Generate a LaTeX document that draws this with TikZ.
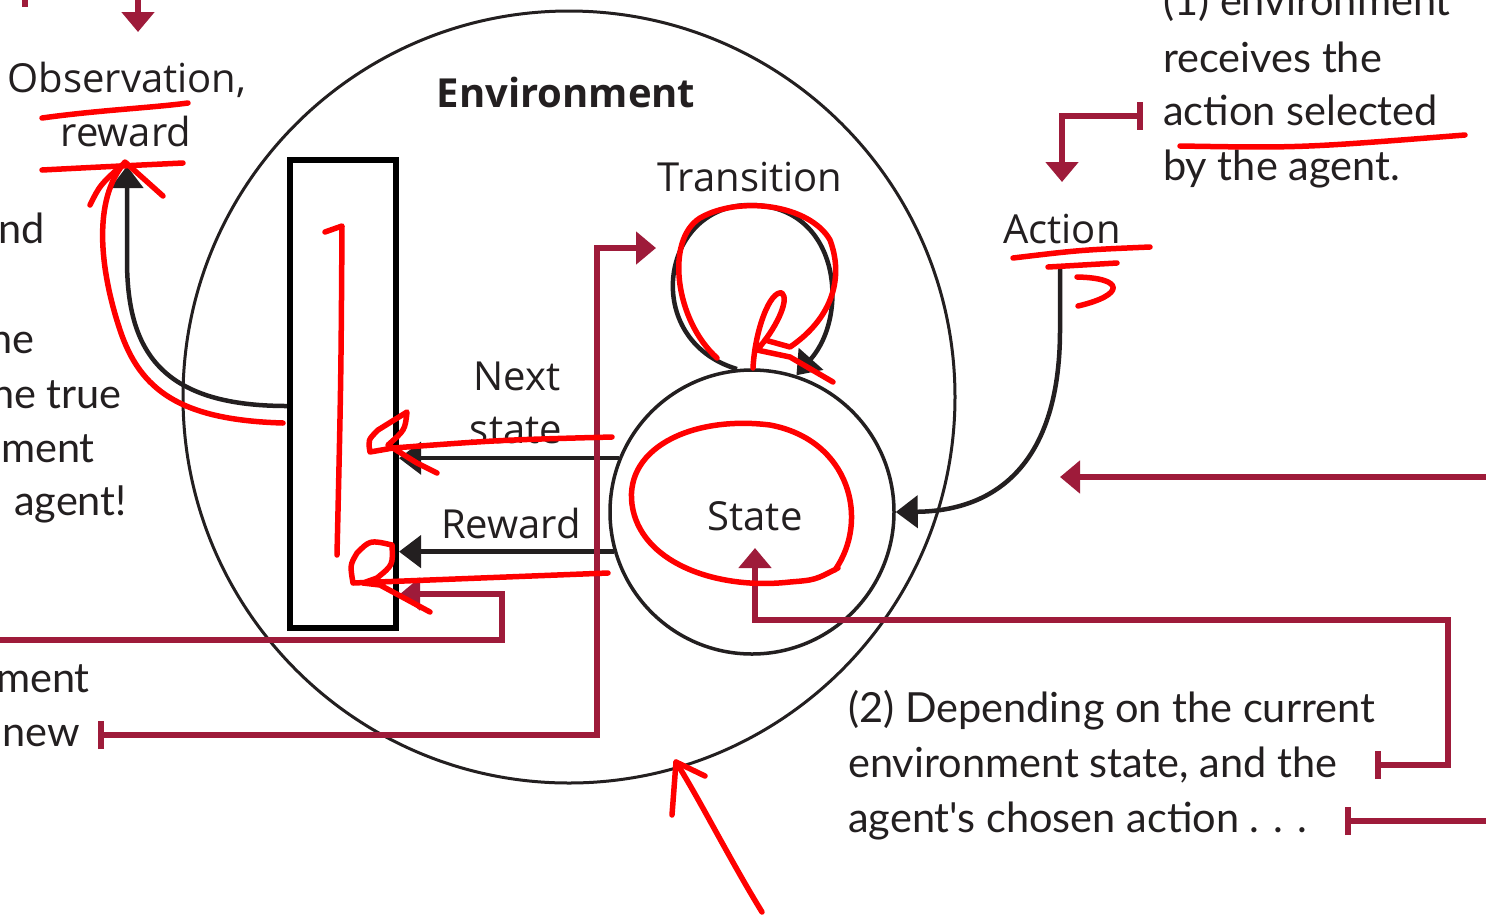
\documentclass[tikz,border=0pt]{standalone}
\usepackage{fontspec}
\setmainfont{Open Sans}
\newfontfamily\handfont{Lato}
\usetikzlibrary{arrows.meta}
\definecolor{ink}{HTML}{231F20}
\definecolor{callout}{HTML}{9E1B3A}
\definecolor{penred}{HTML}{FF0000}
\begin{document}
\begin{tikzpicture}[x=1pt,y=-1pt,
  lbl/.style={font=\fontsize{40}{48}\selectfont, text=ink, inner sep=0, anchor=base},
  hand/.style={font=\handfont\fontsize{41.5}{48}\selectfont, text=ink, inner sep=0},
  conn/.style={draw=ink, line width=4.5pt, -{Triangle[length=22pt,width=32pt]}},
  mline/.style={draw=callout, line width=6pt},
  mtip/.style={-{Triangle[length=20pt,width=32pt]}},
  mbar/.style={{Bar[width=28pt]}-},
  mbartip/.style={{Bar[width=28pt]}-{Triangle[length=20pt,width=32pt]}},
  pen/.style={draw=penred, line width=5.5pt, line cap=round, line join=round}]
\useasboundingbox[fill=white] (0,0) rectangle (1486,922);

% main shapes
\node[draw=ink, circle, line width=3pt, minimum size=772pt, inner sep=0] (env) at (569,397) {};
\node[draw=black, line width=6pt, minimum width=106pt, minimum height=468pt, inner sep=0] (box) at (343,394) {};
\node[draw=ink, circle, line width=3.5pt, minimum size=284pt, inner sep=0] (state) at (752,512) {};

% labels
\node[lbl, font=\bfseries\fontsize{40}{48}\selectfont] (envlbl) at (566,107) {Environment};
\node[lbl] (obs1) at (127,92) {Observation,};
\node[lbl] (obs2) at (126,146) {reward};
\node[lbl] (translbl) at (750,191) {Transition};
\node[lbl] (next1) at (517,390) {Next};
\node[lbl] (next2) at (516,443) {state};
\node[lbl] (rewlbl) at (511,538) {Reward};
\node[lbl] (statelbl) at (755,530) {State};
\node[lbl] (action) at (1062,243) {Action};

% black connectors
\coordinate (obstip) at (127,166);
\coordinate (actfoot) at (1060,265);
\draw[conn] ([yshift=-12pt]box.west) .. controls (160,406) and (127,350) .. (127,260) -- (obstip);
\draw[conn] (state.158.5) -- (box.east |- state.158.5);
\draw[conn] (state.196) -- (box.east |- state.196);
\draw[conn] (actfoot) -- (1060,330) .. controls (1060,470) and (990,511) .. (state.east);
\draw[conn] (state.96) .. controls (640,340) and (660,205) .. (750,205) .. controls (840,205) and (850,315) .. (state.72);

% handwritten annotations
\node[hand, anchor=base west] (r0) at (1163,15) {(1) environment};
\node[hand, anchor=base west] (r1) at (1163,72) {receives the};
\node[hand, anchor=base west] (r2) at (1163,125) {action selected};
\node[hand, anchor=base west] (r3) at (1163,180) {by the agent.};
\node[hand, anchor=base west] (b1) at (848,722) {(2) Depending on the current};
\node[hand, anchor=base west] (b2) at (848,777) {environment state, and the};
\node[hand, anchor=base west] (b3) at (848,832) {agent's chosen action . . .};
\node[hand, anchor=base east] (l1) at (45,243) {nd};
\node[hand, anchor=base east] (l2) at (35,353) {he};
\node[hand, anchor=base east] (l3) at (122,408) {he true};
\node[hand, anchor=base east] (l4) at (95,462) {ment};
\node[hand, anchor=base east] (l5) at (127,515) {agent!};
\node[hand, anchor=base east] (l6) at (90,692) {ment};
\node[hand, anchor=base east] (l7) at (80,746) {new};

% callout lines
\draw[mline] (25,-10) -- (25,7);
\draw[mline, mtip] (138,-10) -- (138,32);
\draw[mline, mbartip] (1143,116) -| (1062,182);
\draw[mline, mtip] (1500,477) -- (1060,477);
\draw[mline, mbartip] (1375,765) -- (1448,765) -- (1448,620) -- (755,620) -- (755,548);
\draw[mline, mbar] (1345,821) -- (1500,821);
\draw[mline, mtip] (-10,640) -- (502,640) -- (502,594) -- (400,594);
\draw[mline, mbartip] (98,735) -- (597,735) -- (597,248) -- (656,248);

% red pen marks
\draw[pen] (42,118) .. controls (100,110) and (150,108) .. (188,103);
\draw[pen] (42,170) .. controls (100,167) .. (183,163);
\draw[pen] (283,423) .. controls (180,420) and (140,390) .. (120,330) .. controls (100,270) and (92,200) .. (125,162) -- (163,196);
\draw[pen] (90,205) .. controls (100,185) .. (122,165);
\draw[pen] (325,232) -- (342,226) .. controls (341,380) .. (337,555);
\draw[pen] (612,437) .. controls (500,440) .. (393,448) -- (370,452) .. controls (368,440) .. (378,430) -- (407,412) .. controls (405,430) .. (388,445) -- (417,463) -- (437,473);
\draw[pen] (608,573) .. controls (480,578) .. (353,583) .. controls (350,565) .. (357,553) .. controls (370,540) .. (392,545) .. controls (393,565) .. (377,578) -- (363,583) -- (380,585) -- (430,612);
\draw[pen] (717,358) .. controls (675,320) and (665,240) .. (700,218) .. controls (740,195) and (810,205) .. (830,240) .. controls (845,280) and (830,320) .. (790,347) -- (765,340);
\draw[pen] (753,368) .. controls (755,330) and (770,290) .. (782,293) .. controls (790,300) and (775,330) .. (757,350) -- (790,357) -- (833,382);
\draw[pen] (835,570) .. controls (870,520) and (850,440) .. (770,425) .. controls (690,415) and (620,450) .. (633,510) .. controls (645,565) and (720,590) .. (790,582) .. controls (815,580) .. (838,568);
\draw[pen] (1013,258) .. controls (1080,250) .. (1150,247);
\draw[pen] (1048,267) -- (1117,263);
\draw[pen] (1077,277) .. controls (1125,278) and (1125,295) .. (1078,306);
\draw[pen] (1180,146) .. controls (1300,148) .. (1465,135);
\draw[pen] (762,912) .. controls (730,860) and (700,800) .. (676,762);
\draw[pen] (672,815) -- (676,762) -- (705,776);
\end{tikzpicture}
\end{document}
